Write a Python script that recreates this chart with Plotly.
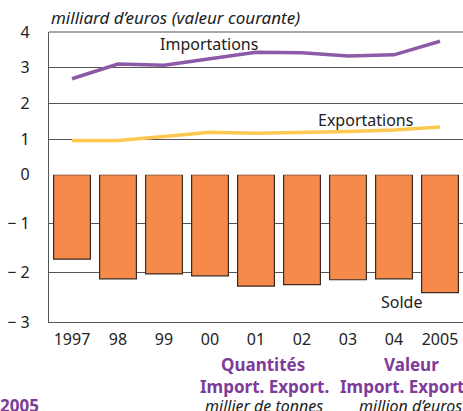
import plotly.graph_objects as go

years = ["1997", "98", "99", "00", "01", "02", "03", "04", "2005"]
importations = [2.69, 3.10, 3.07, 3.25, 3.43, 3.42, 3.33, 3.36, 3.74]
exportations = [0.96, 0.96, 1.07, 1.19, 1.16, 1.18, 1.21, 1.25, 1.34]
solde = [-1.72, -2.12, -2.02, -2.06, -2.27, -2.24, -2.14, -2.12, -2.40]

top_ticks = [0, 1, 2, 3, 4]
top_labels = ["0", "1", "2", "3", "4"]
bot_ticks = [-1, -2, -3]
bot_labels = ["\u2212 1", "\u2212 2", "\u2212 3"]

W, H = 463, 411
L, T, R, B = 49, 32, 0, 89
PW, PH = W - L - R, H - T - B
split = 0.508

FONT = "Noto Sans"
PURPLE_TXT = "#7d3c98"

def px(x, y):
    return (x - L) / PW, (H - B - y) / PH

fig = go.Figure()
fig.add_trace(go.Bar(x=years, y=solde, yaxis="y2", width=0.8,
                     marker=dict(color="#f58a4a", line=dict(color="#3b2a20", width=1.2)),
                     showlegend=False, hoverinfo="skip"))
fig.add_trace(go.Scatter(x=years, y=importations, mode="lines", yaxis="y",
                         line=dict(color="#8d5aa8", width=3.5), showlegend=False))
fig.add_trace(go.Scatter(x=years, y=exportations, mode="lines", yaxis="y",
                         line=dict(color="#fcc850", width=3.5), showlegend=False))

axis_common = dict(showgrid=True, gridcolor="#555555", gridwidth=1, zeroline=False,
                   showline=True, linecolor="#555555", linewidth=1.2, automargin=False,
                   ticks="outside", ticklen=15, tickcolor="rgba(0,0,0,0)",
                   tickfont=dict(family=FONT, size=16, color="#222222"), fixedrange=True)

fig.update_layout(
    width=W, height=H,
    margin=dict(l=L, r=R, t=T, b=B, autoexpand=False),
    paper_bgcolor="white", plot_bgcolor="white",
    bargap=0.2,
    xaxis=dict(type="category", range=[-0.5, 8.5], anchor="y2", showline=True,
               linecolor="#555555", linewidth=1.2, showgrid=False, ticks="outside",
               ticklen=3, tickcolor="rgba(0,0,0,0)", automargin=False, fixedrange=True,
               tickfont=dict(family=FONT, size=16, color="#222222")),
    yaxis=dict(domain=[split, 1], range=[0, 4], tickvals=top_ticks, ticktext=top_labels,
               **axis_common),
    yaxis2=dict(domain=[0, split], range=[-3, 0], tickvals=bot_ticks, ticktext=bot_labels,
                **axis_common),
)

fig.add_shape(type="line", xref="paper", yref="paper", x0=0, x1=1, y0=1, y1=1,
              line=dict(color="#555555", width=1.2))

def ann(text, x, y, size, color="#222222", italic=False, bold=False, xanchor="center"):
    ax, ay = px(x, y)
    t = text
    if bold:
        t = "<b>" + t + "</b>"
    if italic:
        t = "<i>" + t + "</i>"
    fig.add_annotation(text=t, x=ax, y=ay, xref="paper", yref="paper", showarrow=False,
                       xanchor=xanchor, yanchor="middle",
                       font=dict(family=FONT, size=size, color=color))

ann("milliard d\u2019euros (valeur courante)", 49, 17, 17, italic=True, xanchor="left")
ann("Importations", 209, 44, 16)
ann("Exportations", 365, 120, 16)
ann("Solde", 401, 302, 16)
ann("Quantités", 263, 364, 17, color=PURPLE_TXT, bold=True)
ann("Import. Export.", 264, 386, 17, color=PURPLE_TXT, bold=True)
ann("millier de tonnes", 264, 406, 16, italic=True)
ann("Valeur", 411, 364, 17, color=PURPLE_TXT, bold=True)
ann("Import. Export.", 338, 386, 17, color=PURPLE_TXT, bold=True, xanchor="left")
ann("million d\u2019euros", 357, 406, 16, italic=True, xanchor="left")
ann("2005", -2, 405, 17, color=PURPLE_TXT, bold=True, xanchor="left")

fig.write_html("out.html", config={"displayModeBar": False},
               post_script="document.body.style.margin='0';document.body.style.overflow='hidden';")
